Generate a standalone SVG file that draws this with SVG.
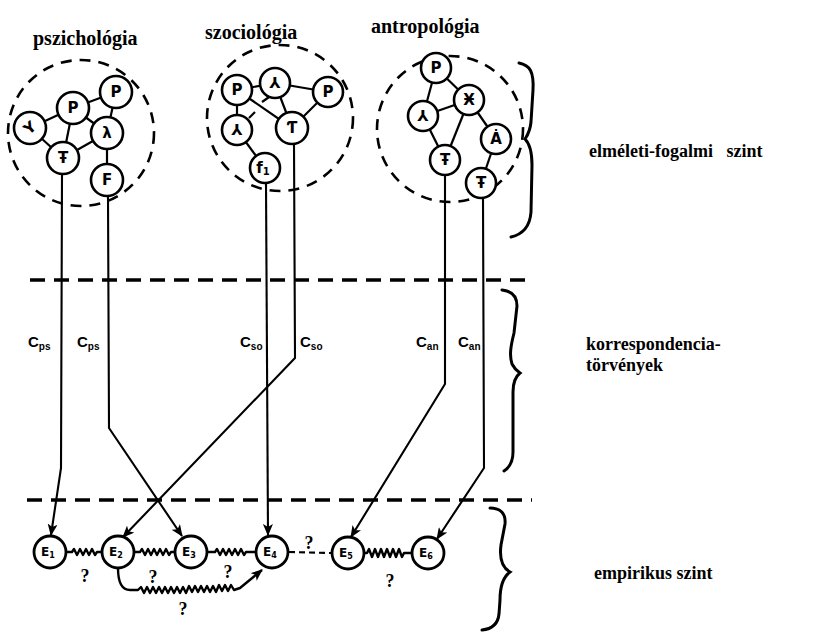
<svg xmlns="http://www.w3.org/2000/svg" width="821" height="634" viewBox="0 0 821 634">
<defs>
<style>
.bg{fill:#fff}
.title{font-family:"Liberation Serif",serif;font-weight:bold;font-size:20px;fill:#000}
.lvl{font-family:"Liberation Serif",serif;font-weight:bold;font-size:18px;fill:#000}
.node circle{fill:#fff;stroke:#000;stroke-width:2.6}
.node text{font-family:"DejaVu Sans",sans-serif;font-weight:bold;font-size:15px;fill:#000;text-anchor:middle}
.enode circle{fill:#fff;stroke:#000;stroke-width:2.8}
.enode text{font-family:"DejaVu Sans",sans-serif;font-weight:bold;font-size:12px;fill:#000;text-anchor:middle}
.edge{stroke:#000;stroke-width:2.2;fill:none}
.conn{stroke:#000;stroke-width:2.1;fill:none;stroke-linejoin:round}
.wave{stroke:#000;stroke-width:2.4;fill:none;stroke-linejoin:round}
.cluster{fill:none;stroke:#000;stroke-width:2.6;stroke-dasharray:11 8}
.hdash{stroke:#000;stroke-width:3.4;stroke-dasharray:15 9;fill:none}
.brace{stroke:#000;stroke-width:3;fill:none;stroke-linecap:round}
.clab{font-family:"Liberation Sans",sans-serif;font-weight:bold;font-size:15px;fill:#000}
.q{font-family:"Liberation Serif",serif;font-weight:bold;font-size:18px;fill:#000;text-anchor:middle}
</style>
<marker id="arr" markerUnits="userSpaceOnUse" markerWidth="12" markerHeight="10" refX="11" refY="5" orient="auto" viewBox="0 0 12 10">
<path d="M0,0 L12,5 L0,10 L3,5 z" fill="#000"/>
</marker>
</defs>
<rect class="bg" x="0" y="0" width="821" height="634"/>

<!-- titles -->
<text class="title" x="33" y="45">pszichológia</text>
<text class="title" x="205" y="39">szociológia</text>
<text class="title" x="371" y="33">antropológia</text>

<!-- level labels -->
<text class="lvl" x="589" y="157" xml:space="preserve">elméleti-fogalmi   szint</text>
<text class="lvl" x="586" y="350">korrespondencia-</text>
<text class="lvl" x="586" y="371">törvények</text>
<text class="lvl" x="594" y="579">empirikus szint</text>

<!-- cluster outlines -->
<g id="cluster-pszichologia"><circle class="cluster" cx="81" cy="133" r="73"/></g>
<g id="cluster-szociologia"><circle class="cluster" cx="280" cy="118" r="73"/></g>
<g id="cluster-antropologia"><circle class="cluster" cx="450" cy="129" r="73"/></g>

<!-- level separators -->
<line class="hdash" x1="30" y1="280" x2="532" y2="280"/>
<line class="hdash" x1="27" y1="500" x2="532" y2="500"/>

<!-- braces -->
<path class="brace" d="M519,63 C530,65 534,72 533,90 L531,122 C530,132 527,136 525,139 C529,143 532,150 532,165 L531,212 C530,226 524,234 511,237"/>
<path class="brace" d="M502,290 C512,291 517,296 517,306 L514,333 C511,345 509,355 512,364 C514,368 517,371 520,373 C515,377 513,382 513,392 L513,452 C513,462 510,467 504,471"/>
<path class="brace" d="M490,508 C501,508 506,514 505,524 L501,545 C499,560 503,568 510,572 C503,577 500,586 500,600 L499,614 C498,624 492,629 482,630"/>

<!-- connectors -->
<g id="connectors">
  <!-- psychology internal -->
  <line class="edge" x1="30" y1="128" x2="73" y2="108"/>
  <line class="edge" x1="30" y1="128" x2="63" y2="158"/>
  <line class="edge" x1="73" y1="108" x2="63" y2="158"/>
  <line class="edge" x1="73" y1="108" x2="107" y2="133"/>
  <line class="edge" x1="73" y1="108" x2="116" y2="92"/>
  <line class="edge" x1="116" y1="92" x2="107" y2="133"/>
  <line class="edge" x1="107" y1="133" x2="63" y2="158"/>
  <line class="edge" x1="107" y1="133" x2="107" y2="180"/>
  <!-- sociology internal -->
  <line class="edge" x1="237" y1="90" x2="275" y2="83"/>
  <line class="edge" x1="275" y1="83" x2="328" y2="92"/>
  <line class="edge" x1="275" y1="83" x2="292" y2="128"/>
  <line class="edge" x1="237" y1="90" x2="292" y2="128"/>
  <line class="edge" x1="328" y1="92" x2="292" y2="128"/>
  <line class="edge" x1="237" y1="90" x2="237" y2="130"/>
  <line class="edge" x1="272" y1="95" x2="262" y2="102"/>
  <line class="edge" x1="255" y1="112" x2="249" y2="118"/>
  <line class="edge" x1="237" y1="130" x2="265" y2="168"/>
  <!-- anthropology internal -->
  <line class="edge" x1="436" y1="68" x2="423" y2="116"/>
  <line class="edge" x1="436" y1="68" x2="469" y2="100"/>
  <line class="edge" x1="423" y1="116" x2="469" y2="100"/>
  <line class="edge" x1="423" y1="116" x2="445" y2="160"/>
  <line class="edge" x1="469" y1="100" x2="445" y2="160"/>
  <line class="edge" x1="469" y1="100" x2="496" y2="139"/>
  <line class="edge" x1="496" y1="139" x2="481" y2="183"/>

  <!-- correspondence rules -->
  <polyline class="conn" points="62,174 61,468 51,535" marker-end="url(#arr)"/>
  <polyline class="conn" points="108,196 109,428 182,536" marker-end="url(#arr)"/>
  <polyline class="conn" points="294,144 295,358 123,537" marker-end="url(#arr)"/>
  <polyline class="conn" points="266,184 268,535" marker-end="url(#arr)"/>
  <polyline class="conn" points="445,176 445,384 351,537" marker-end="url(#arr)"/>
  <polyline class="conn" points="483,199 484,468 437,539" marker-end="url(#arr)"/>

  <!-- empirical links -->
  <polyline class="wave" points="66,552 72,552 74,549 77,555 80,549 83,555 86,549 89,555 92,549 95,555 97,552 102,552"/>
  <polyline class="wave" points="134,552 140,552 142,549 145,555 148,549 151,555 154,549 157,555 160,549 163,555 166,549 169,555 171,552 175,552"/>
  <polyline class="wave" points="207,552 215,552 217,549 220,555 223,549 226,555 229,549 232,555 235,549 238,555 241,549 244,555 246,552 256,552"/>
  <polyline class="wave" points="364,553 367,553 369,549 372,557 375,549 378,557 381,549 384,557 387,549 390,557 393,549 396,557 399,549 402,557 404,553 412,553"/>
  <path class="wave" d="M118,568 Q118,590 130,590 L138,590 L141,587 L144,593 L147,587 L150,593 L153,587 L156,593 L159,587 L162,593 L165,587 L168,593 L171,587 L174,593 L177,587 L180,593 L183,587 L186,593 L189,586 L192,592 L195,586 L198,592 L201,586 L204,592 L207,586 L210,592 L213,586 L216,592 L219,585 L222,591 L225,585 L228,591 L231,585 L234,590 L240,588 L262,570" marker-end="url(#arr)"/>
  <line class="conn" x1="289" y1="552" x2="332" y2="553" stroke-dasharray="6 4"/>

  <!-- correspondence labels -->
  <text class="clab" x="28" y="347">C<tspan font-size="10" dy="3">ps</tspan></text>
  <text class="clab" x="77" y="347">C<tspan font-size="10" dy="3">ps</tspan></text>
  <text class="clab" x="240" y="347">C<tspan font-size="10" dy="3">so</tspan></text>
  <text class="clab" x="300" y="347">C<tspan font-size="10" dy="3">so</tspan></text>
  <text class="clab" x="416" y="347">C<tspan font-size="10" dy="3">an</tspan></text>
  <text class="clab" x="458" y="347">C<tspan font-size="10" dy="3">an</tspan></text>

  <!-- question marks -->
  <text class="q" x="85" y="582">?</text>
  <text class="q" x="153" y="583">?</text>
  <text class="q" x="228" y="578">?</text>
  <text class="q" x="183" y="615">?</text>
  <text class="q" x="309" y="549">?</text>
  <text class="q" x="390" y="587">?</text>
</g>

<!-- psychology nodes -->
<g id="ps-1" class="node"><circle cx="30" cy="128" r="16"/><text x="30" y="133" transform="rotate(-40 30 128)">Y</text></g>
<g id="ps-2" class="node"><circle cx="73" cy="108" r="16"/><text x="73" y="113">P</text></g>
<g id="ps-3" class="node"><circle cx="116" cy="92" r="16"/><text x="116" y="97">P</text></g>
<g id="ps-4" class="node"><circle cx="107" cy="133" r="16"/><text x="107" y="138">λ</text></g>
<g id="ps-5" class="node"><circle cx="63" cy="158" r="16"/><text x="63" y="163">Ŧ</text></g>
<g id="ps-6" class="node"><circle cx="107" cy="180" r="16"/><text x="107" y="185">F</text></g>

<!-- sociology nodes -->
<g id="so-1" class="node"><circle cx="237" cy="90" r="15"/><text x="237" y="95">P</text></g>
<g id="so-2" class="node"><circle cx="275" cy="83" r="15"/><text x="275" y="88">⅄</text></g>
<g id="so-3" class="node"><circle cx="328" cy="92" r="15"/><text x="328" y="97">P</text></g>
<g id="so-4" class="node"><circle cx="237" cy="130" r="15"/><text x="237" y="135">⅄</text></g>
<g id="so-5" class="node"><circle cx="292" cy="128" r="16"/><text x="292" y="133">Ƭ</text></g>
<g id="so-6" class="node"><circle cx="265" cy="168" r="15"/><text x="263" y="173">f<tspan font-size="10" dy="2">1</tspan></text></g>

<!-- anthropology nodes -->
<g id="an-1" class="node"><circle cx="436" cy="68" r="15"/><text x="436" y="73">P</text></g>
<g id="an-2" class="node"><circle cx="469" cy="100" r="15"/><text x="469" y="105">Ӿ</text></g>
<g id="an-3" class="node"><circle cx="423" cy="116" r="15"/><text x="423" y="121">⅄</text></g>
<g id="an-4" class="node"><circle cx="496" cy="139" r="15"/><text x="496" y="144">Ȧ</text></g>
<g id="an-5" class="node"><circle cx="445" cy="160" r="15"/><text x="445" y="165">Ŧ</text></g>
<g id="an-6" class="node"><circle cx="481" cy="183" r="15"/><text x="481" y="188">Ŧ</text></g>

<!-- empirical nodes -->
<g id="e1" class="enode"><circle cx="50" cy="552" r="16"/><text x="48" y="556">E<tspan font-size="8" dy="2">1</tspan></text></g>
<g id="e2" class="enode"><circle cx="118" cy="552" r="16"/><text x="116" y="556">E<tspan font-size="8" dy="2">2</tspan></text></g>
<g id="e3" class="enode"><circle cx="191" cy="552" r="16"/><text x="189" y="556">E<tspan font-size="8" dy="2">3</tspan></text></g>
<g id="e4" class="enode"><circle cx="272" cy="552" r="16"/><text x="270" y="556">E<tspan font-size="8" dy="2">4</tspan></text></g>
<g id="e5" class="enode"><circle cx="348" cy="553" r="16"/><text x="346" y="557">E<tspan font-size="8" dy="2">5</tspan></text></g>
<g id="e6" class="enode"><circle cx="428" cy="553" r="16"/><text x="426" y="557">E<tspan font-size="8" dy="2">6</tspan></text></g>
</svg>
